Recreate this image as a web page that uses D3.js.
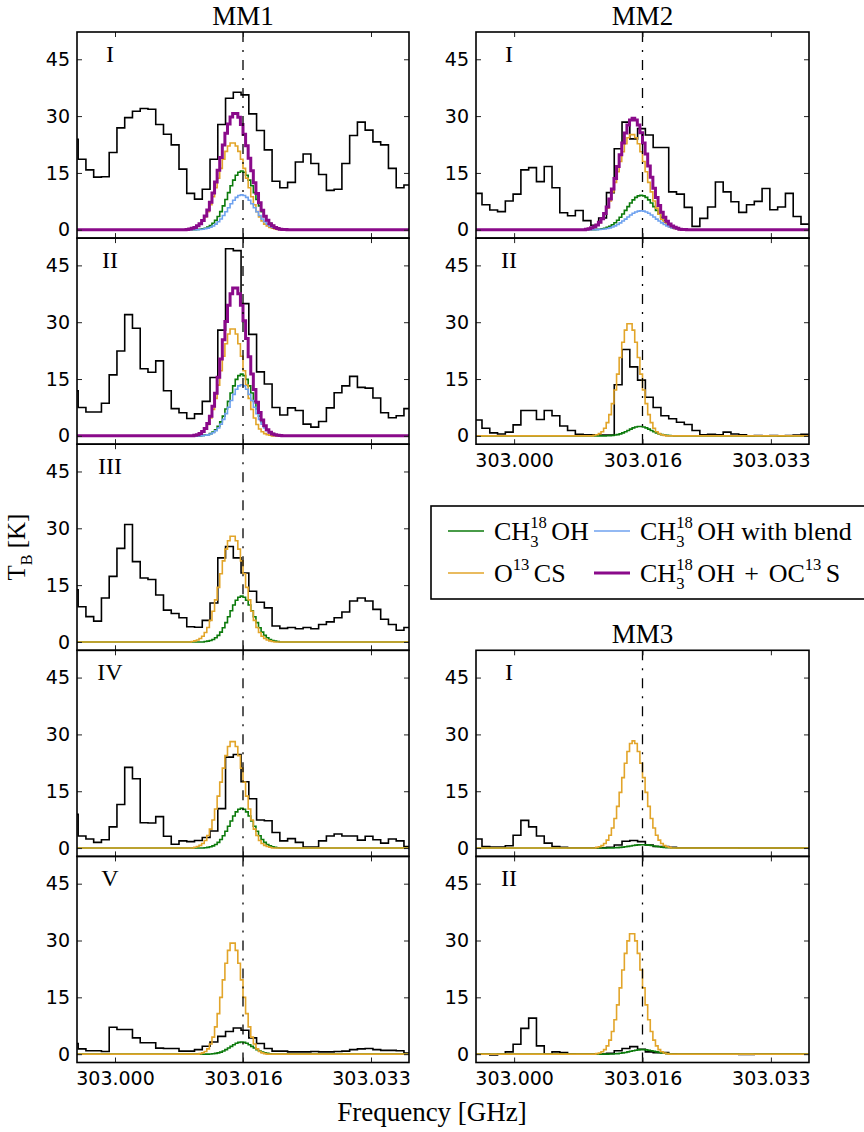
<!DOCTYPE html>
<html><head><meta charset="utf-8">
<script src="https://cdn.jsdelivr.net/npm/d3@7"></script>
<style>
body{margin:0;background:#fff}
text{fill:#000}
</style>
</head><body>
<svg id="c" width="864" height="1132" xmlns="http://www.w3.org/2000/svg"></svg>
<script>
// ---------------- DATA ----------------
const xTickValues = [303.000, 303.0165, 303.033];
const xTickLabels = ["303.000", "303.016", "303.033"];
const yTicks = [0, 15, 30, 45];
const restFreq = 303.0165;           // GHz, dash-dot line
const chanWidth = 0.001;             // GHz, observed channel width
const mm1ChanStart = 302.99475;      // GHz, centre of first observed channel (MM1)
const mm23ChanStart = 302.99537;     // GHz, centre of first observed channel (MM2, MM3)
const modelOrigin = 303.0;           // GHz, model grid origin
const modelStep = 0.001 / 3;         // GHz, model grid step

// observed spectra (K)
const mm1_I_obs = [23.9,18.6,15.8,13.9,14.0,20.4,26.9,29.6,31.3,32.0,31.8,27.8,25.2,22.4,16.0,9.6,8.1,10.7,18.6,27.8,34.7,36.3,35.6,30.6,26.2,21.1,12.8,11.1,12.5,17.9,20.0,17.5,14.6,10.4,10.7,17.5,24.9,28.4,26.3,23.2,22.4,16.2,11.1,11.8];
const mm1_II_obs = [11.9,7.5,6.3,6.3,8.6,16.1,22.4,32.0,28.4,17.7,16.8,19.8,11.9,7.2,6.1,4.6,5.8,9.1,15.4,27.9,49.4,48.9,34.9,26.8,16.9,13.7,7.5,5.5,7.4,6.7,3.1,2.3,3.8,7.4,11.4,13.2,15.7,12.8,12.6,10.0,6.1,4.8,5.3,7.2];
const mm1_III_obs = [13.8,9.3,6.7,5.5,11.6,17.3,24.7,31.0,21.2,16.9,16.5,12.4,8.4,7.5,6.4,4.0,3.9,5.7,10.3,22.2,25.2,22.2,18.2,13.4,10.5,9.0,4.2,3.6,3.8,3.5,3.8,3.5,4.6,5.3,6.4,7.9,10.8,11.6,10.8,8.6,6.0,4.6,3.1,3.8];
const mm1_IV_obs = [8.9,3.2,2.4,1.5,2.2,5.6,11.5,21.3,18.3,6.7,6.6,8.3,3.1,1.0,1.9,1.7,2.0,2.8,4.5,10.4,24.0,24.7,17.5,13.0,7.4,7.2,4.1,1.9,2.5,1.5,0.3,0.3,1.9,3.2,3.7,3.2,3.2,2.1,3.1,2.2,1.3,2.4,1.9,0.4];
const mm1_V_obs = [2.8,1.4,0.9,0.9,0.7,7.1,6.5,6.5,4.3,3.0,3.0,1.6,1.5,1.5,0.8,0.8,1.2,2.1,3.2,4.7,6.0,6.9,6.3,4.3,2.8,1.5,0.8,0.8,0.6,0.6,0.6,0.7,0.6,0.6,0.7,0.8,1.2,1.4,1.5,1.2,1.0,1.0,0.9,0.3];
const mm2_I_obs = [9.6,6.6,5.2,4.8,7.6,9.4,15.8,16.4,12.7,16.7,11.1,4.5,3.7,5.1,2.4,1.2,3.1,9.8,21.4,28.4,24.0,26.7,25.0,21.7,21.7,10.0,9.4,5.9,0.9,3.0,6.0,12.6,10.0,7.4,4.6,6.6,7.5,10.9,5.3,6.0,9.6,3.5,1.5];
const mm2_II_obs = [4.2,2.0,0.8,0.5,1.0,2.9,6.7,6.7,4.3,6.7,5.3,2.6,1.4,0.4,0.3,0.3,0.2,0.2,13.5,22.8,18.2,14.7,10.2,7.5,5.3,4.5,3.6,3.0,1.4,0.3,0.4,0.3,1.0,0.5,0.3,0.0,0.1,0.0,0.1,0.0,0.1,0.2,0.4];
const mm3_I_obs = [2.4,0.4,0.3,0.3,0.6,3.4,7.3,5.6,3.2,1.3,0.4,0.2,0.1,0.1,0.1,0.1,0.1,0.2,0.8,1.8,2.0,1.7,0.8,0.4,0.4,0.2,0.1,0.1,0.1,0.1,0.1,0.1,0.1,0.1,0.0,0.0,0.0,0.0,0.0,0.0,0.0,0.0,0.0];
const mm3_II_obs = [0.0,0.0,-0.2,0.0,0.6,2.6,6.8,9.5,2.2,0.0,0.6,0.4,0.1,0.0,0.0,0.0,0.0,0.2,0.9,1.5,2.0,1.3,0.6,0.4,0.4,0.1,0.0,0.0,0.0,0.0,0.0,0.0,0.0,0.0,-0.1,-0.1,0.0,0.0,0.0,0.0,0.0,0.0,0.0];

// model spectra (K); j0 = index of first value on the model grid
const mm1_I_green  = {j0:32, v:[0.08,0.14,0.25,0.4,0.7,1.1,1.7,2.5,3.5,4.8,6.3,8.0,9.8,11.6,13.1,14.4,15.2,15.5,15.2,14.4,13.1,11.6,9.8,8.0,6.3,4.8,3.5,2.5,1.7,1.1,0.7,0.4,0.25,0.14,0.08]};
const mm1_I_orange = {j0:28, v:[0.1,0.2,0.4,0.6,1.0,1.5,2.3,3.4,4.8,6.6,8.7,11.1,13.6,16.2,18.6,20.7,22.1,22.9,22.9,22.1,20.7,18.6,16.2,13.6,11.1,8.7,6.6,4.8,3.4,2.3,1.5,1.0,0.6,0.4,0.2,0.1]};
const mm1_I_blue   = {j0:32, v:[0.05,0.08,0.15,0.26,0.42,0.66,1.01,1.48,2.10,2.85,3.75,4.77,5.82,6.86,7.80,8.56,9.03,9.2,9.03,8.56,7.80,6.86,5.82,4.77,3.75,2.85,2.10,1.48,1.01,0.66,0.42,0.26,0.15,0.08,0.05]};
const mm1_I_purple = {j0:28, v:[0.1,0.2,0.4,0.6,1.05,1.58,2.45,3.66,5.22,7.26,9.71,12.58,15.7,19.05,22.35,25.47,27.92,29.76,30.7,30.66,29.73,27.8,25.23,22.16,18.9,15.56,12.42,9.57,7.15,5.15,3.6,2.48,1.61,1.06,0.62,0.36,0.15,0.08,0.05]};

const mm1_II_green  = {j0:34, v:[0.1,0.2,0.3,0.6,1.0,1.6,2.5,3.7,5.2,7.1,9.1,11.3,13.2,14.9,15.9,16.3,15.9,14.9,13.2,11.3,9.1,7.1,5.2,3.7,2.5,1.6,1.0,0.6,0.3,0.2,0.1]};
const mm1_II_orange = {j0:31, v:[0.15,0.3,0.6,1.1,1.8,3.0,4.7,7.0,9.9,13.4,17.2,21.0,24.3,26.9,28.2,28.2,26.9,24.3,21.0,17.2,13.4,9.9,7.0,4.7,3.0,1.8,1.1,0.6,0.3,0.15]};
const mm1_II_blue   = {j0:34, v:[0.07,0.15,0.27,0.49,0.82,1.34,2.08,3.08,4.35,5.87,7.57,9.33,10.96,12.31,13.19,13.5,13.19,12.31,10.96,9.33,7.57,5.87,4.35,3.08,2.08,1.34,0.82,0.49,0.27,0.15,0.07]};
const mm1_II_purple = {j0:31, v:[0.15,0.3,0.6,1.17,1.95,3.27,5.19,7.82,11.24,15.48,20.28,25.35,30.17,34.47,37.53,39.0,39.0,37.49,34.5,30.39,25.71,20.86,16.33,12.27,8.87,6.15,4.18,2.68,1.64,0.97,0.49,0.27,0.15,0.07]};

const mm1_III_green  = {j0:35, v:[0.11,0.21,0.39,0.67,1.10,1.74,2.61,3.74,5.11,6.64,8.25,9.75,11.0,11.8,12.1,11.8,11.0,9.75,8.25,6.64,5.11,3.74,2.61,1.74,1.10,0.67,0.39,0.21,0.11]};
const mm1_III_orange = {j0:30, v:[0.14,0.3,0.5,0.9,1.5,2.5,3.8,5.7,8.1,11.1,14.4,18.0,21.4,24.5,26.7,27.9,27.9,26.7,24.5,21.4,18.0,14.4,11.1,8.1,5.7,3.8,2.5,1.5,0.9,0.5,0.3,0.14]};

const mm1_IV_green  = {j0:35, v:[0.09,0.18,0.34,0.58,0.96,1.51,2.27,3.24,4.43,5.76,7.16,8.46,9.54,10.25,10.5,10.25,9.54,8.46,7.16,5.76,4.43,3.24,2.27,1.51,0.96,0.58,0.34,0.18,0.09]};
const mm1_IV_orange = {j0:31, v:[0.2,0.4,0.7,1.2,2.0,3.3,5.0,7.4,10.3,13.7,17.4,21.1,24.4,26.8,28.1,28.1,26.8,24.4,21.1,17.4,13.7,10.3,7.4,5.0,3.3,2.0,1.2,0.7,0.4,0.2]};

const mm1_V_green  = {j0:37, v:[0.06,0.12,0.20,0.34,0.55,0.83,1.19,1.61,2.06,2.50,2.87,3.11,3.2,3.11,2.87,2.50,2.06,1.61,1.19,0.83,0.55,0.34,0.20,0.12,0.06]};
const mm1_V_orange = {j0:33, v:[0.15,0.35,0.7,1.4,2.7,4.5,7.2,10.7,15.0,19.6,24.0,27.4,29.3,29.3,27.4,24.0,19.6,15.0,10.7,7.2,4.5,2.7,1.4,0.7,0.35,0.15]};

const mm2_I_green  = {j0:32, v:[0.09,0.15,0.25,0.40,0.62,0.92,1.33,1.86,2.51,3.29,4.18,5.13,6.12,7.06,7.89,8.54,8.95,9.1,8.95,8.54,7.89,7.06,6.12,5.13,4.18,3.29,2.51,1.86,1.33,0.92,0.62,0.40,0.25,0.15,0.09]};
const mm2_I_orange = {j0:28, v:[0.15,0.3,0.5,0.8,1.2,1.9,2.8,4.1,5.7,7.6,10.0,12.5,15.3,18.0,20.6,22.7,24.3,25.1,25.1,24.3,22.7,20.6,18.0,15.3,12.5,10.0,7.6,5.7,4.1,2.8,1.9,1.2,0.8,0.5,0.3,0.15]};
const mm2_I_blue   = {j0:32, v:[0.05,0.09,0.14,0.22,0.34,0.51,0.73,1.02,1.38,1.81,2.30,2.82,3.36,3.88,4.34,4.69,4.92,5.0,4.92,4.69,4.34,3.88,3.36,2.82,2.30,1.81,1.38,1.02,0.73,0.51,0.34,0.22,0.14,0.09,0.05]};
const mm2_I_purple = {j0:28, v:[0.15,0.3,0.5,0.8,1.25,1.99,2.94,4.32,6.04,8.11,10.73,13.52,16.68,19.81,22.9,25.52,27.66,28.98,29.44,28.99,27.62,25.6,22.92,19.99,16.84,13.88,10.96,8.52,6.4,4.61,3.28,2.22,1.53,1.01,0.64,0.37,0.14,0.09,0.05]};

const mm2_II_green  = {j0:36, v:[0.03,0.07,0.12,0.21,0.34,0.53,0.78,1.09,1.43,1.79,2.11,2.35,2.48,2.48,2.35,2.11,1.79,1.43,1.09,0.78,0.53,0.34,0.21,0.12,0.07,0.03]};
const mm2_II_orange = {j0:31, v:[0.13,0.3,0.6,1.1,2.0,3.5,5.6,8.5,12.1,16.3,20.7,24.7,27.9,29.6,29.6,27.9,24.7,20.7,16.3,12.1,8.5,5.6,3.5,2.0,1.1,0.6,0.3,0.13]};

const mm3_I_green  = {j0:36, v:[0.01,0.02,0.04,0.07,0.11,0.17,0.24,0.34,0.45,0.56,0.68,0.78,0.85,0.89,0.89,0.85,0.78,0.68,0.56,0.45,0.34,0.24,0.17,0.11,0.07,0.04,0.02,0.01]};
const mm3_I_orange = {j0:32, v:[0.17,0.34,0.65,1.2,2.1,3.4,5.3,7.8,11.0,14.7,18.6,22.4,25.5,27.6,28.3,27.6,25.5,22.4,18.6,14.7,11.0,7.8,5.3,3.4,2.1,1.2,0.65,0.34,0.17]};

const mm3_II_green  = {j0:36, v:[0.02,0.03,0.06,0.09,0.15,0.23,0.33,0.45,0.60,0.75,0.90,1.04,1.14,1.19,1.19,1.14,1.04,0.90,0.75,0.60,0.45,0.33,0.23,0.15,0.09,0.06,0.03,0.02]};
const mm3_II_orange = {j0:32, v:[0.14,0.31,0.64,1.2,2.2,3.7,6.0,9.1,13.0,17.5,22.2,26.6,29.9,31.8,31.8,29.9,26.6,22.2,17.5,13.0,9.1,6.0,3.7,2.2,1.2,0.64,0.31,0.14]};

// ---------------- LAYOUT / STYLE ----------------
const colors = {obs:"#000000", green:"#0b7a0b", orange:"#e2a52a", blue:"#6fa2ef", purple:"#8a0a8a"};
const widths = {obs:1.6, green:1.6, orange:1.6, blue:1.6, purple:3.0};
const xDomain = [302.9951, 303.0379];
const yDomain = [-2.2, 52.2];
const colX = [77, 476], colW = [332, 333];
const row0 = 32, rowH = 206.1;
const serif = "'Liberation Serif','Times New Roman',serif";
const sans = "'DejaVu Sans',sans-serif";

const panels = [
  {col:0,row:0,label:"I",  obs:mm1_I_obs,  ch0:mm1ChanStart, models:[["green",mm1_I_green],["orange",mm1_I_orange],["blue",mm1_I_blue],["purple",mm1_I_purple]]},
  {col:0,row:1,label:"II", obs:mm1_II_obs, ch0:mm1ChanStart, models:[["green",mm1_II_green],["orange",mm1_II_orange],["blue",mm1_II_blue],["purple",mm1_II_purple]]},
  {col:0,row:2,label:"III",obs:mm1_III_obs,ch0:mm1ChanStart, models:[["green",mm1_III_green],["orange",mm1_III_orange]]},
  {col:0,row:3,label:"IV", obs:mm1_IV_obs, ch0:mm1ChanStart, models:[["green",mm1_IV_green],["orange",mm1_IV_orange]]},
  {col:0,row:4,label:"V",  obs:mm1_V_obs,  ch0:mm1ChanStart, models:[["green",mm1_V_green],["orange",mm1_V_orange]], xlab:true},
  {col:1,row:0,label:"I",  obs:mm2_I_obs,  ch0:mm23ChanStart, models:[["green",mm2_I_green],["orange",mm2_I_orange],["blue",mm2_I_blue],["purple",mm2_I_purple]]},
  {col:1,row:1,label:"II", obs:mm2_II_obs, ch0:mm23ChanStart, models:[["green",mm2_II_green],["orange",mm2_II_orange]], xlab:true},
  {col:1,row:3,label:"I",  obs:mm3_I_obs,  ch0:mm23ChanStart, models:[["green",mm3_I_green],["orange",mm3_I_orange]]},
  {col:1,row:4,label:"II", obs:mm3_II_obs, ch0:mm23ChanStart, models:[["green",mm3_II_green],["orange",mm3_II_orange]], xlab:true},
];

const svg = d3.select("#c");
svg.append("rect").attr("width",864).attr("height",1132).attr("fill","#fff");

const stepLine = d3.line().curve(d3.curveStep);

panels.forEach((p, k) => {
  const w = colW[p.col], h = rowH;
  const g = svg.append("g").attr("transform", `translate(${colX[p.col]},${row0 + p.row*rowH})`);
  const x = d3.scaleLinear().domain(xDomain).range([0, w]);
  const y = d3.scaleLinear().domain(yDomain).range([h, 0]);
  const cid = "clip" + k;
  g.append("clipPath").attr("id", cid).append("rect").attr("width", w).attr("height", h);
  const plot = g.append("g").attr("clip-path", `url(#${cid})`);

  // observed step spectrum
  const pts = p.obs.map((v, i) => [p.ch0 + i*chanWidth, v]);
  const n = pts.length;
  const full = [[pts[0][0] - chanWidth/2, pts[0][1]], ...pts, [pts[n-1][0] + chanWidth/2, pts[n-1][1]]];
  plot.append("path")
    .attr("d", stepLine.x(d => x(d[0])).y(d => y(d[1]))(full))
    .attr("fill","none").attr("stroke",colors.obs).attr("stroke-width",widths.obs);

  // models
  p.models.forEach(([key, m]) => {
    const f = j => modelOrigin + j*modelStep;
    const mp = m.v.map((v, i) => [f(m.j0 + i), v]);
    const last = m.j0 + m.v.length;
    const mfull = [[xDomain[0] - 0.002, 0], [f(m.j0 - 1), 0], ...mp, [f(last), 0], [xDomain[1] + 0.002, 0]];
    plot.append("path")
      .attr("d", stepLine.x(d => x(d[0])).y(d => y(d[1]))(mfull))
      .attr("fill","none").attr("stroke",colors[key]).attr("stroke-width",widths[key])
      .attr("stroke-linejoin","miter");
  });

  // dash-dot rest frequency
  plot.append("line")
    .attr("x1", x(restFreq)).attr("x2", x(restFreq)).attr("y1", 0).attr("y2", h)
    .attr("stroke","#000").attr("stroke-width",1.3).attr("stroke-dasharray","10,8,2,8");

  // axes ticks
  const styleAx = sel => {
    sel.select(".domain").remove();
    sel.selectAll(".tick line").attr("stroke","#222").attr("stroke-width",1);
    sel.selectAll("text").attr("font-family", sans).attr("font-size", 19).attr("fill","#000");
  };
  g.append("g").call(d3.axisLeft(y).tickValues(yTicks).tickSizeInner(-5).tickSizeOuter(0).tickPadding(7)).call(styleAx);
  g.append("g").attr("transform",`translate(${w},0)`).call(d3.axisRight(y).tickValues(yTicks).tickSizeInner(-5).tickSizeOuter(0).tickFormat("")).call(styleAx);
  g.append("g").attr("transform",`translate(0,${h})`).call(d3.axisBottom(x).tickValues(xTickValues).tickSizeInner(-5).tickSizeOuter(0).tickPadding(9.5)
      .tickFormat((d, i) => p.xlab ? xTickLabels[i] : "")).call(styleAx);
  g.append("g").call(d3.axisTop(x).tickValues(xTickValues).tickSizeInner(-5).tickSizeOuter(0).tickFormat("")).call(styleAx);

  // frame
  g.append("rect").attr("width", w).attr("height", h).attr("fill","none").attr("stroke","#000").attr("stroke-width",1.6);

  // panel label
  g.append("text").attr("x", 33).attr("y", 30).attr("text-anchor","middle")
    .attr("font-family", serif).attr("font-size", 24).text(p.label);
});

// titles
const titles = [["MM1", colX[0] + colW[0]/2, 25], ["MM2", colX[1] + colW[1]/2, 25], ["MM3", colX[1] + colW[1]/2, 643]];
titles.forEach(([t, tx, ty]) => svg.append("text").attr("x", tx).attr("y", ty).attr("text-anchor","middle")
  .attr("font-family", serif).attr("font-size", 27).text(t));

// x label
svg.append("text").attr("x", 432).attr("y", 1121).attr("text-anchor","middle")
  .attr("font-family", serif).attr("font-size", 27).text("Frequency [GHz]");

// rich text helper: one <text> element, tspans placed like LaTeX sub/superscripts
function richText(g, x0, y0, parts, size) {
  const small = size*0.64;
  const measure = (s, fs) => {
    const t = g.append("text").attr("font-family", serif).attr("font-size", fs).attr("xml:space","preserve").text(s);
    const wv = t.node().getComputedTextLength(); t.remove(); return wv;
  };
  const txt = g.append("text").attr("font-family", serif).attr("font-size", size).attr("xml:space","preserve");
  let cx = x0;
  parts.forEach(pt => {
    if (pt.t !== undefined) {
      txt.append("tspan").attr("x", cx).attr("y", y0).text(pt.t);
      cx += measure(pt.t, size);
    } else if (pt.gap !== undefined) {
      cx += pt.gap*size;
    } else {
      let ww = 0;
      if (pt.sup) { txt.append("tspan").attr("x", cx).attr("y", y0 - size*0.43).attr("font-size", small).text(pt.sup); ww = Math.max(ww, measure(pt.sup, small)); }
      if (pt.sub) { txt.append("tspan").attr("x", cx).attr("y", y0 + size*0.28).attr("font-size", small).text(pt.sub); ww = Math.max(ww, measure(pt.sub, small)); }
      cx += ww;
    }
  });
  return cx - x0;
}

// y label
const yl = svg.append("g");
const ylw = richText(yl, 0, 0, [{t:"T"}, {sub:"B"}, {gap:0.25}, {t:"[K]"}], 25);
yl.attr("transform", `translate(25,547) rotate(-90) translate(${-ylw/2},0)`);

// legend
const leg = svg.append("g");
leg.append("rect").attr("x", 431).attr("y", 506).attr("width", 450).attr("height", 93)
  .attr("fill","#fff").attr("stroke","#000").attr("stroke-width",1.6);
const ch3 = [{t:"CH"}, {sup:"18", sub:"3"}, {gap:0.17}, {t:"OH"}];
const legendItems = [
  {key:"green",  lx:448, tx:494, y:531, parts: ch3},
  {key:"orange", lx:448, tx:494, y:573, parts: [{t:"O"}, {sup:"13"}, {gap:0.17}, {t:"CS"}]},
  {key:"blue",   lx:594, tx:640, y:531, parts: [...ch3, {t:" with blend"}]},
  {key:"purple", lx:594, tx:640, y:573, parts: [...ch3, {gap:0.12}, {t:" + "}, {gap:0.12}, {t:"OC"}, {sup:"13"}, {gap:0.17}, {t:"S"}]},
];
legendItems.forEach(it => {
  leg.append("line").attr("x1", it.lx).attr("x2", it.lx + 36).attr("y1", it.y).attr("y2", it.y)
    .attr("stroke", colors[it.key]).attr("stroke-width", widths[it.key]);
  richText(leg, it.tx, it.y + 8.5, it.parts, 26);
});
</script>
</body></html>
